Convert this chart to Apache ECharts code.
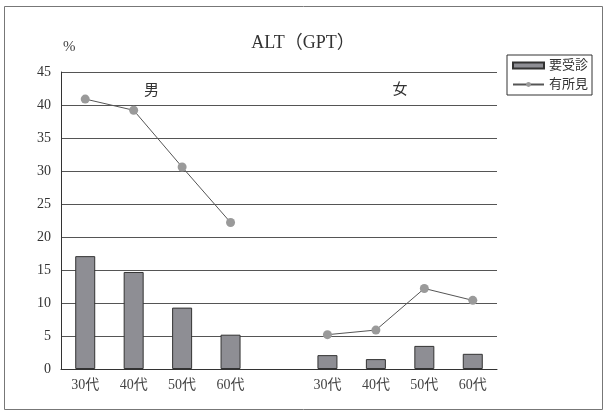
<!DOCTYPE html>
<html><head><meta charset="utf-8">
<script src="https://cdn.jsdelivr.net/npm/echarts@6/dist/echarts.min.js"></script>
<style>html,body{margin:0;padding:0;background:#fff}#c{width:606px;height:414px}</style>
</head><body><div id="c"></div>
<script>
var categories = ['30代','40代','50代','60代','','30代','40代','50代','60代'];
var needCare = [17.1,14.7,9.3,5.2,null,2.1,1.5,3.5,2.3];
var findings = [40.9,39.2,30.6,22.2,null,5.2,5.9,12.2,10.4];
var yTicks = {min:0, max:45, interval:5};
var groupLabels = ['男','女'];
var FONT = "'Liberation Serif','Noto Sans CJK JP',serif";
var chart = echarts.init(document.getElementById('c'));
var option = {
  animation:false,
  backgroundColor:'#fff',
  title:{text:'ALT（GPT）', left:'center', top:29, textStyle:{fontFamily:FONT, fontSize:18, fontWeight:'normal', color:'#333'}},
  grid:{left:61, right:109, top:72, bottom:45},
  legend:{
    orient:'vertical', left:507, top:55, borderColor:'#333', borderWidth:1,
    padding:[4,4,4,5], itemGap:6, itemWidth:31, itemHeight:6,
    textStyle:{fontFamily:FONT, fontSize:13, color:'#333'},
    data:[{name:'要受診', icon:'rect'}, {name:'有所見'}]
  },
  xAxis:{
    type:'category', data:categories,
    axisLine:{lineStyle:{color:'#333', width:1}},
    axisTick:{inside:true, length:5, lineStyle:{color:'#333'}},
    axisLabel:{fontFamily:FONT, fontSize:14, color:'#444', margin:9}
  },
  yAxis:{
    type:'value', min:yTicks.min, max:yTicks.max, interval:yTicks.interval,
    name:'%', nameLocation:'end', nameGap:17,
    nameTextStyle:{fontFamily:FONT, fontSize:15, color:'#444', align:'left', padding:[0,0,0,2]},
    axisLine:{show:true, lineStyle:{color:'#333', width:1}},
    axisTick:{show:false},
    splitLine:{lineStyle:{color:'#555', width:1}},
    axisLabel:{fontFamily:FONT, fontSize:14, color:'#333', margin:10}
  },
  series:[
    {name:'要受診', type:'bar', data:needCare, barWidth:20,
     itemStyle:{color:'#8e8e94', borderColor:'#333', borderWidth:1}},
    {name:'有所見', type:'line', data:findings, connectNulls:false,
     symbol:'circle', symbolSize:9,
     lineStyle:{color:'#555', width:1},
     itemStyle:{color:'#9a9a9a', borderWidth:0}}
  ]
};
chart.setOption(option);
var p0 = chart.convertToPixel({xAxisIndex:0, yAxisIndex:0}, [0, 42.3]);
var p1 = chart.convertToPixel({xAxisIndex:0, yAxisIndex:0}, [1, 42.3]);
var slot = p1[0] - p0[0];
function px(idx){ return p0[0] + idx * slot; }
chart.setOption({graphic:[
  {type:'rect', shape:{x:4.5, y:6.5, width:598, height:403}, style:{fill:'none', stroke:'#777', lineWidth:1}, silent:true},
  {type:'text', x:px(1.37), y:p0[1]+1, style:{text:groupLabels[0], fontFamily:FONT, fontSize:15, fill:'#333', textAlign:'center', textVerticalAlign:'middle'}},
  {type:'text', x:px(6.5), y:p0[1], style:{text:groupLabels[1], fontFamily:FONT, fontSize:15, fill:'#333', textAlign:'center', textVerticalAlign:'middle'}}
]});
</script></body></html>
